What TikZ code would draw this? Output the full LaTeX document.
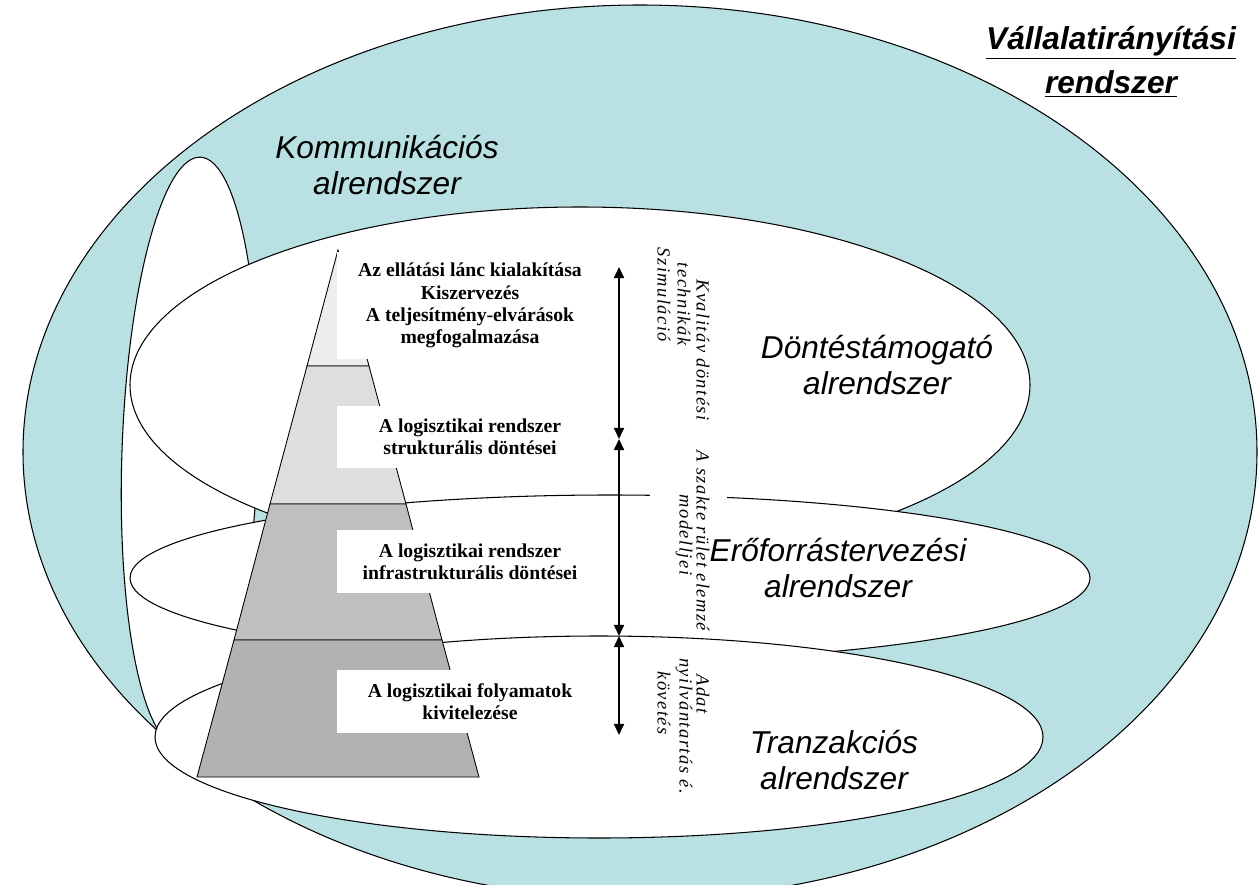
\documentclass[tikz,border=0pt]{standalone}
\usepackage{fontspec}
\setmainfont{Liberation Serif}
\setsansfont{Liberation Sans}
\newfontfamily\vfont{Liberation Serif}[LetterSpace=8]
\usetikzlibrary{arrows.meta}
\definecolor{vteal}{RGB}{185,224,226}
\definecolor{bandA}{gray}{0.93}
\definecolor{bandB}{gray}{0.87}
\definecolor{bandC}{gray}{0.75}
\definecolor{bandD}{gray}{0.70}
\tikzset{
  ring/.style={draw=black, line width=0.6pt, fill=white},
  band/.style={draw=black, line width=0.5pt},
  labelbox/.style={fill=white, inner sep=0pt, align=center, minimum width=5.32cm,
    font=\bfseries\fontsize{11.2}{12.6}\selectfont},
  systext/.style={align=center, font=\sffamily\itshape\fontsize{18}{21}\selectfont},
  vtext/.style={rotate=-90, inner sep=0pt, font=\vfont\itshape\fontsize{10.5}{11.4}\selectfont},
  levelarrow/.style={line width=1pt, {Triangle[length=6.3pt,width=5.7pt]}-{Triangle[length=6.3pt,width=5.7pt]}}
}
\begin{document}
\begin{tikzpicture}[x=0.02cm, y=-0.02cm]
  \useasboundingbox (0,0) rectangle (1258,885);
  % vallalatiranyitasi rendszer
  \draw[ring, fill=vteal] (640,452) ellipse [x radius=617, y radius=447];
  % alrendszerek
  \draw[ring, rotate around={-2:(190,452)}] (190,452) ellipse [x radius=68, y radius=295];
  \draw[ring] (580,385) ellipse [x radius=450, y radius=178];
  \draw[ring] (610,578) ellipse [x radius=480, y radius=83];
  \draw[ring] (599,737) ellipse [x radius=444, y radius=101];
  % piramis
  \filldraw[band, fill=bandA] (338,250) -- (369,366) -- (307,366) -- cycle;
  \filldraw[band, fill=bandB] (307,366) -- (369,366) -- (406,504) -- (270,504) -- cycle;
  \filldraw[band, fill=bandC] (270,504) -- (406,504) -- (442,640) -- (234,640) -- cycle;
  \filldraw[band, fill=bandD] (234,640) -- (442,640) -- (479,777) -- (197,777) -- cycle;
  \node[labelbox, minimum height=2.14cm] (ellatas) at (470,305.5)
    {Az ellátási lánc kialakítása\\Kiszervezés\\A teljesítmény-elvárások\\megfogalmazása};
  \node[labelbox, minimum height=1.24cm] (strukt) at (470,437)
    {A logisztikai rendszer\\strukturális döntései};
  \node[labelbox, minimum height=1.26cm] (infra) at (470,561.5)
    {A logisztikai rendszer\\infrastrukturális döntései};
  \node[labelbox, minimum height=1.26cm] (folyamat) at (470,701.5)
    {A logisztikai folyamatok\\kivitelezése};
  % szintek
  \coordinate (lv0) at (619,267);
  \coordinate (lv1) at (619,439);
  \coordinate (lv2) at (619,636);
  \coordinate (lv3) at (619,735);
  \draw[levelarrow] (lv0) -- (lv1);
  \draw[levelarrow] (lv1) -- (lv2);
  \draw[levelarrow] (lv2) -- (lv3);
  \fill[white] (650,445) rectangle (727,628);
  \node[vtext] (kval1) at (703,350) {Kvalitáv döntési};
  \node[vtext] (kval2) at (684,304) {technikák};
  \node[vtext] (kval3) at (664,295) {Szimuláció};
  \node[vtext] (szak1) at (703,541) {A szakte rület elemzé};
  \node[vtext] (szak2) at (684,535) {modelljei};
  \node[vtext] (adat1) at (703,694) {Adat};
  \node[vtext] (adat2) at (684,726) {nyilvántartás é.};
  \node[vtext] (adat3) at (664,703) {követés};
  % feliratok
  \node[systext] (kommlabel) at (387,165) {Kommunikációs\\alrendszer};
  \node[systext, font=\sffamily\bfseries\itshape\fontsize{18}{25}\selectfont] (vallabel) at (1111,62)
    {\underline{Vállalatirányítási}\\\underline{rendszer}};
  \node[systext] (dontlabel) at (877,365) {Döntéstámogató\\alrendszer};
  \node[systext] (eroflabel) at (838,568) {Erőforrástervezési\\alrendszer};
  \node[systext] (tranzlabel) at (834,760) {Tranzakciós\\alrendszer};
\end{tikzpicture}
\end{document}
